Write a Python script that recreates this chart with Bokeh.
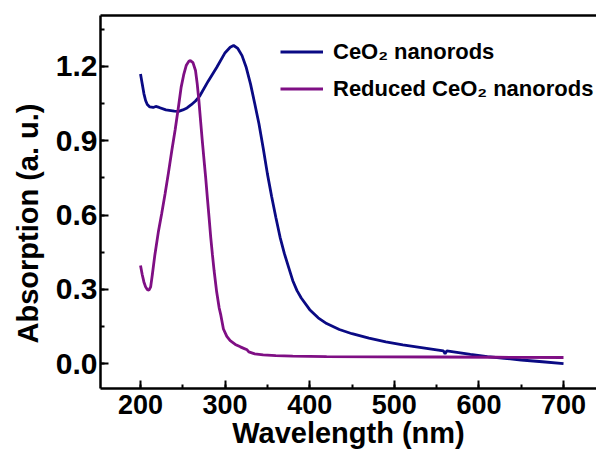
from bokeh.plotting import figure
from bokeh.models import (Range1d, SingleIntervalTicker, LinearAxis, FixedTicker,
                          PrintfTickFormatter, Legend, LegendItem, Title)
from bokeh.embed import file_html
from bokeh.resources import INLINE

# ---- data ----
wl_ceo2 = [200, 202, 204, 206, 208, 211, 215, 218, 222, 230, 240, 245, 250, 255,
           260, 265, 270, 280, 290, 300, 306, 310, 315, 320, 325, 330, 335, 340,
           345, 350, 355, 360, 365, 370, 375, 380, 385, 390, 400, 410, 420, 435,
           450, 470, 490, 510, 530, 550, 558, 560, 562, 570, 590, 610, 630, 650,
           675, 700]
abs_ceo2 = [1.169, 1.130, 1.090, 1.062, 1.046, 1.036, 1.034, 1.038, 1.034, 1.024,
            1.019, 1.018, 1.024, 1.032, 1.045, 1.060, 1.080, 1.140, 1.195, 1.255,
            1.277, 1.284, 1.272, 1.243, 1.195, 1.129, 1.050, 0.968, 0.870, 0.766,
            0.675, 0.590, 0.510, 0.445, 0.390, 0.335, 0.295, 0.265, 0.218, 0.185,
            0.162, 0.138, 0.121, 0.103, 0.088, 0.076, 0.066, 0.056, 0.052, 0.040,
            0.052, 0.048, 0.038, 0.029, 0.022, 0.015, 0.008, 0.000]

wl_red = [200, 202, 204, 206, 208, 210, 212, 214, 217, 221, 225, 229, 233, 237,
          241, 245, 248, 251, 254, 257, 259, 262, 265, 267, 269, 271, 273, 275,
          277, 279, 281, 283, 285, 287, 290, 293, 295, 298, 302, 306, 312, 318,
          322, 326, 328, 335, 345, 360, 380, 420, 480, 550, 620, 700]
abs_red = [0.396, 0.360, 0.330, 0.310, 0.299, 0.297, 0.310, 0.360, 0.440, 0.530,
           0.605, 0.685, 0.770, 0.860, 0.945, 1.040, 1.115, 1.165, 1.203, 1.220,
           1.223, 1.215, 1.183, 1.130, 1.062, 0.980, 0.900, 0.825, 0.752, 0.670,
           0.591, 0.510, 0.440, 0.375, 0.290, 0.225, 0.195, 0.140, 0.110, 0.093,
           0.078, 0.068, 0.062, 0.056, 0.048, 0.040, 0.036, 0.033, 0.031, 0.029,
           0.028, 0.027, 0.026, 0.025]

x_ticks_interval = 100
y_ticks_interval = 0.3
series_labels = ["CeO\u2082 nanorods", "Reduced CeO\u2082 nanorods"]
series_colors = ["#0a0a84", "#7f0f84"]
x_title = "Wavelength (nm)"
y_title = "Absorption (a. u.)"

FONT = "Liberation Sans"
W, H = 596, 456

p = figure(width=W, height=H, output_backend="svg", toolbar_location=None,
           x_range=Range1d(152.7, 739.0), y_range=Range1d(-0.1, 1.405),
           min_border_left=100, min_border_right=0, min_border_top=15,
           min_border_bottom=68, x_axis_label=x_title)
p.outline_line_color = None
p.grid.visible = False
p.background_fill_color = "white"
p.border_fill_color = "white"

r1 = p.line(wl_ceo2, abs_ceo2, line_color=series_colors[0], line_width=2.8)
r2 = p.line(wl_red, abs_red, line_color=series_colors[1], line_width=2.8)

p.xaxis.ticker = SingleIntervalTicker(interval=x_ticks_interval, num_minor_ticks=2)
p.yaxis.ticker = SingleIntervalTicker(interval=y_ticks_interval, num_minor_ticks=2)
p.yaxis.formatter = PrintfTickFormatter(format="%.1f")

for ax in (p.xaxis[0], p.yaxis[0]):
    ax.axis_line_width = 2.5
    ax.axis_line_color = "black"
    ax.major_tick_in = 8
    ax.major_tick_out = 0
    ax.minor_tick_in = 4
    ax.minor_tick_out = 0
    ax.major_tick_line_width = 2
    ax.minor_tick_line_width = 2
    ax.major_label_text_font = FONT
    ax.major_label_text_font_style = "bold"
    ax.major_label_text_color = "black"
    ax.axis_label_text_font = FONT
    ax.axis_label_text_font_style = "bold"
    ax.axis_label_text_color = "black"
    ax.axis_label_text_font_size = "29px"

p.xaxis.major_label_text_font_size = "27px"
p.xaxis.major_label_standoff = 6
p.xaxis.axis_label_standoff = 0
p.yaxis.major_label_text_font_size = "30px"
p.yaxis.major_label_standoff = 3

top = LinearAxis(ticker=FixedTicker(ticks=[]), axis_line_width=2.5,
                 axis_line_color="black", major_tick_line_color=None,
                 minor_tick_line_color=None, major_label_text_font_size="0px")
p.add_layout(top, "above")

# y-axis title placed as a side title so it can sit below the frame's centre
ytitle = Title(text=y_title, align="left", offset=45, standoff=18,
               vertical_align="bottom", text_font=FONT, text_font_style="bold",
               text_font_size="29px", text_color="black")
p.add_layout(ytitle, "left")

legend = Legend(items=[LegendItem(label=series_labels[0], renderers=[r1]),
                       LegendItem(label=series_labels[1], renderers=[r2])],
                location=(180, 286), padding=0, margin=0, spacing=10,
                glyph_width=43, glyph_height=27, label_height=27,
                label_standoff=10, border_line_color=None,
                background_fill_alpha=0,
                label_text_font=FONT, label_text_font_style="bold",
                label_text_font_size="22px", label_text_color="black")
p.add_layout(legend)

open("out.html", "w").write(file_html(p, INLINE))
